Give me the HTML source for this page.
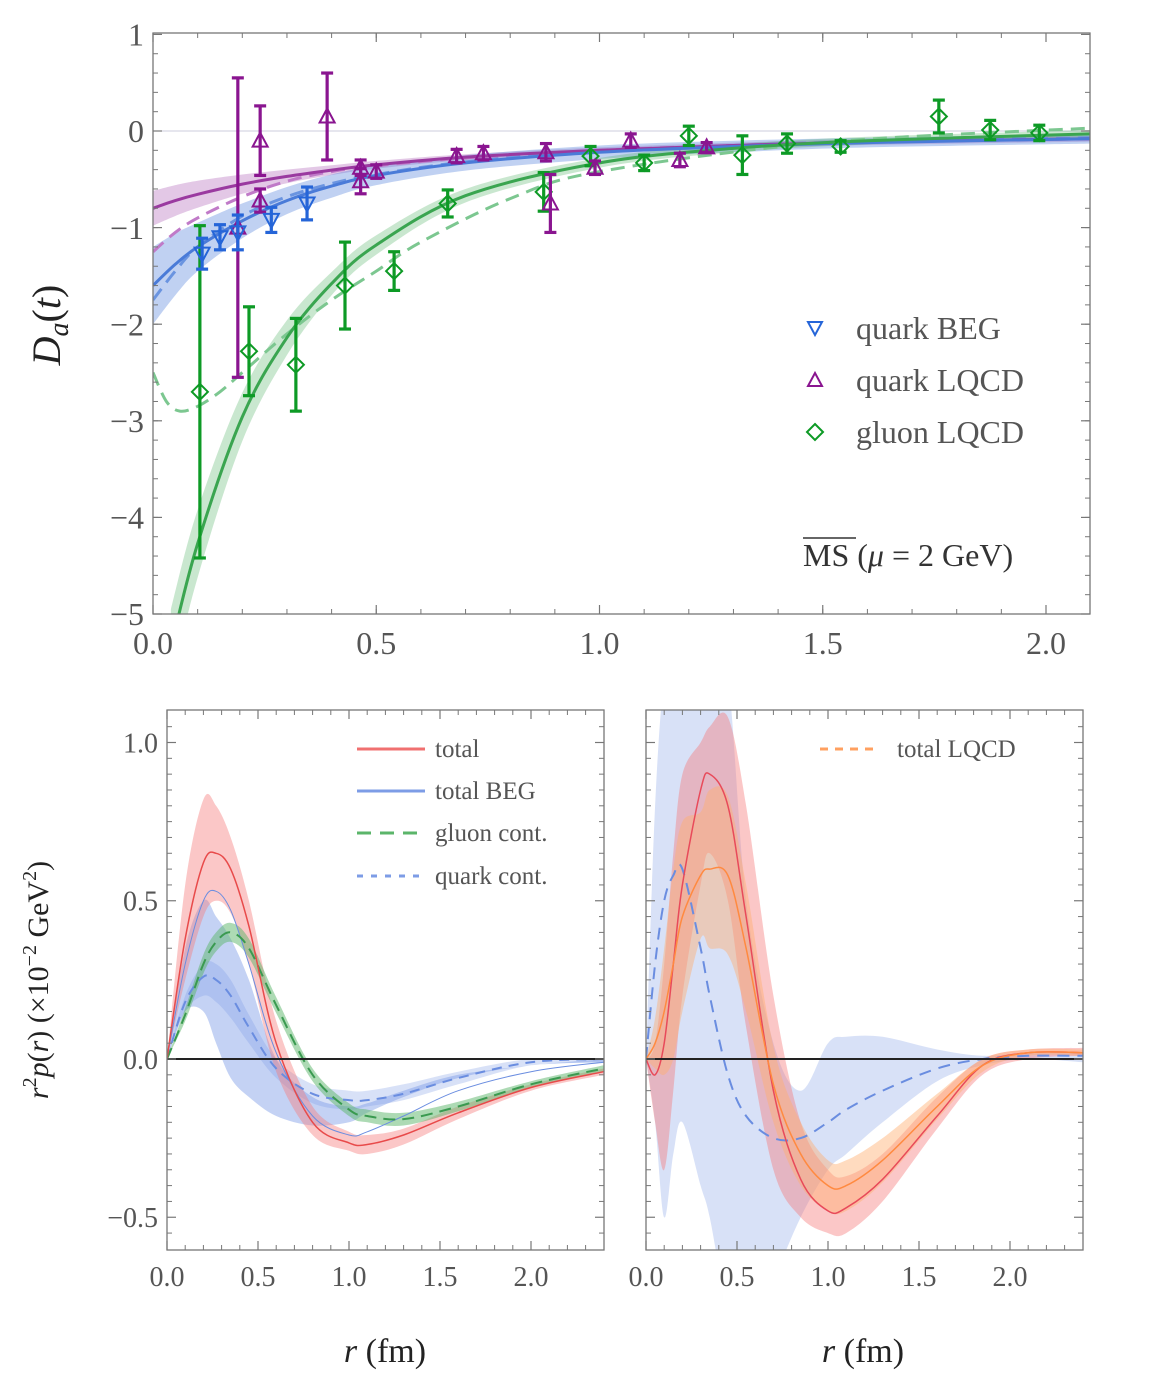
<!DOCTYPE html>
<html><head><meta charset="utf-8">
<style>
html,body{margin:0;padding:0;background:#fff;}
svg{display:block;}
svg text{font-family:"Liberation Serif","DejaVu Serif",serif;}
</style></head>
<body>
<svg id="fig" width="1154" height="1396" viewBox="0 0 1154 1396" xmlns="http://www.w3.org/2000/svg" font-family="Liberation Serif, DejaVu Serif, serif">
<defs>
<clipPath id="clipTop"><rect x="153" y="33" width="937" height="581"/></clipPath>
<clipPath id="clipL"><rect x="167" y="710" width="437" height="540"/></clipPath>
<clipPath id="clipR"><rect x="646" y="710" width="437" height="540"/></clipPath>
</defs>
<g id="top"></g>
<g id="bl"></g>
<g id="br"></g>
</svg>
<script>
// ---------- TOP CHART DATA ----------
const topT = [0,0.05,0.1,0.2,0.3,0.4,0.5,0.7,1.0,1.3,1.6,2.1];
const purpleFit = [-0.8,-0.72,-0.655,-0.55,-0.47,-0.405,-0.35,-0.27,-0.2,-0.15,-0.115,-0.08];
const purpleErr = [0.18,0.16,0.14,0.1,0.07,0.05,0.04,0.03,0.03,0.03,0.03,0.03];
const purpleDash = [-1.25,-1.05,-0.9,-0.68,-0.52,-0.42,-0.36,-0.28,-0.2,-0.15,-0.11,-0.08];
const blueFit = [-1.6,-1.38,-1.2,-0.93,-0.72,-0.57,-0.46,-0.33,-0.22,-0.16,-0.12,-0.08];
const blueErr = [0.4,0.32,0.25,0.18,0.14,0.12,0.1,0.08,0.07,0.06,0.05,0.05];
const blueDash = [-1.75,-1.45,-1.2,-0.88,-0.68,-0.545,-0.45,-0.32,-0.21,-0.15,-0.11,-0.07];
const greenT = [0.04,0.1,0.2,0.3,0.4,0.5,0.7,1.0,1.3,1.6,2.1];
const greenFit = [-5.35,-4.27,-2.96,-2.14,-1.58,-1.18,-0.67,-0.33,-0.18,-0.1,-0.03];
const greenErr = [0.4,0.35,0.25,0.18,0.12,0.1,0.07,0.05,0.04,0.04,0.04];
const greenDashT = [0,0.03,0.06,0.1,0.15,0.2,0.3,0.4,0.5,0.6,0.8,1.0,1.5,2.1];
const greenDash = [-2.5,-2.8,-2.9,-2.85,-2.7,-2.5,-2.1,-1.75,-1.45,-1.15,-0.7,-0.42,-0.12,0.03];
const qBegT = [0.11,0.15,0.19,0.265,0.345];
const qBegV = [-1.27,-1.1,-1.05,-0.92,-0.75];
const qBegE = [0.16,0.13,0.18,0.13,0.17];
const qLqT = [0.19,0.24,0.24,0.39,0.465,0.465,0.5,0.68,0.74,0.88,0.89,0.99,1.07,1.18,1.24];
const qLqV = [-1.0,-0.1,-0.72,0.15,-0.38,-0.52,-0.42,-0.26,-0.23,-0.22,-0.75,-0.38,-0.1,-0.3,-0.17];
const qLqE = [1.55,0.36,0.12,0.45,0.08,0.13,0.07,0.07,0.07,0.09,0.3,0.07,0.07,0.07,0.05];
const gLqT = [0.105,0.215,0.32,0.43,0.54,0.66,0.875,0.98,1.1,1.2,1.32,1.42,1.54,1.76,1.875,1.985];
const gLqV = [-2.7,-2.28,-2.42,-1.6,-1.45,-0.75,-0.63,-0.26,-0.33,-0.05,-0.25,-0.13,-0.16,0.15,0.01,-0.02];
const gLqE = [1.72,0.46,0.48,0.45,0.2,0.14,0.2,0.1,0.08,0.1,0.2,0.1,0.06,0.17,0.1,0.08];
const topXTicks = [0,0.5,1.0,1.5,2.0];
const topXLabels = ["0.0","0.5","1.0","1.5","2.0"];
const topYTicks = [1,0,-1,-2,-3,-4,-5];
const topYLabels = ["1","0","\u22121","\u22122","\u22123","\u22124","\u22125"];

// ---------- BOTTOM LEFT DATA ----------
const rL = [0,0.1,0.2,0.27,0.35,0.45,0.6,0.8,1.0,1.1,1.3,1.6,2.0,2.4];
const totL = [0,0.38,0.62,0.65,0.6,0.42,0.05,-0.2,-0.265,-0.27,-0.24,-0.17,-0.09,-0.04];
const totLHi = [0,0.55,0.82,0.8,0.7,0.5,0.12,-0.15,-0.23,-0.24,-0.22,-0.15,-0.08,-0.03];
const totLLo = [0,0.25,0.45,0.5,0.46,0.3,-0.04,-0.24,-0.29,-0.3,-0.27,-0.19,-0.1,-0.05];
const begL = [0,0.3,0.5,0.53,0.47,0.3,0.02,-0.18,-0.24,-0.23,-0.18,-0.1,-0.04,-0.01];
const begLHi = [0,0.35,0.5,0.45,0.38,0.25,0.0,-0.12,-0.15,-0.14,-0.1,-0.05,-0.02,0];
const begLLo = [0,0.15,0.15,0.05,-0.06,-0.12,-0.18,-0.21,-0.2,-0.17,-0.12,-0.06,-0.02,-0.01];
const quarkL = [0,0.18,0.26,0.25,0.2,0.1,-0.03,-0.11,-0.13,-0.13,-0.11,-0.06,-0.01,0];
const quarkLHi = [0,0.2,0.3,0.3,0.25,0.14,0.0,-0.08,-0.1,-0.1,-0.08,-0.04,0,0];
const quarkLLo = [0,0.15,0.2,0.18,0.13,0.05,-0.06,-0.14,-0.16,-0.15,-0.13,-0.08,-0.02,-0.01];
const gluonL = [0,0.14,0.3,0.37,0.4,0.35,0.17,-0.05,-0.16,-0.18,-0.19,-0.15,-0.08,-0.03];
const gluonLErr = [0,0.02,0.03,0.03,0.03,0.03,0.025,0.02,0.02,0.02,0.02,0.015,0.01,0.01];

// ---------- BOTTOM RIGHT DATA ----------
const rR = [0,0.05,0.1,0.15,0.2,0.3,0.35,0.45,0.55,0.7,0.85,1.0,1.1,1.3,1.6,1.85,2.1,2.4];
const totR = [0,-0.05,0.05,0.3,0.55,0.85,0.9,0.8,0.45,-0.1,-0.38,-0.48,-0.47,-0.38,-0.18,-0.02,0.02,0.02];
const totRHi = [0,0.05,0.3,0.65,0.9,1.0,1.05,1.08,0.8,0.2,-0.2,-0.35,-0.37,-0.3,-0.12,0.0,0.03,0.035];
const totRLo = [0,-0.2,-0.35,-0.1,0.2,0.55,0.65,0.5,0.1,-0.35,-0.5,-0.55,-0.55,-0.45,-0.22,-0.05,0.0,0.01];
const lqR = [0,0.05,0.15,0.3,0.45,0.58,0.6,0.58,0.35,-0.08,-0.3,-0.4,-0.4,-0.32,-0.15,-0.02,0.02,0.02];
const lqRErr = [0,0.08,0.2,0.3,0.3,0.2,0.25,0.25,0.2,0.12,0.1,0.08,0.08,0.07,0.04,0.02,0.01,0.01];
const quarkR = [0,0.3,0.5,0.58,0.6,0.35,0.2,-0.05,-0.18,-0.25,-0.25,-0.2,-0.16,-0.1,-0.03,0,0.01,0.01];
const quarkRHi = [0,0.8,1.2,1.2,1.2,1.2,1.2,1.2,0.5,0.05,-0.1,0.05,0.07,0.07,0.03,0.01,0.02,0.02];
const quarkRLo = [0,-0.2,-0.5,-0.3,-0.2,-0.4,-0.5,-0.8,-0.9,-0.7,-0.5,-0.35,-0.3,-0.2,-0.07,-0.02,0,-0.01];
const botXTicks = [0,0.5,1.0,1.5,2.0];
const botXLabels = ["0.0","0.5","1.0","1.5","2.0"];
const botYTicks = [1.0,0.5,0.0,-0.5];
const botYLabels = ["1.0","0.5","0.0","\u22120.5"];

// ---------- HELPERS ----------
const NS = "http://www.w3.org/2000/svg";
function mk(parent, tag, attrs){ const e=document.createElementNS(NS,tag); for(const k in attrs) e.setAttribute(k,attrs[k]); parent.appendChild(e); return e; }
function smooth(pts){
  let d = "M"+pts[0][0].toFixed(1)+","+pts[0][1].toFixed(1);
  for(let i=0;i<pts.length-1;i++){
    const p0=pts[Math.max(0,i-1)],p1=pts[i],p2=pts[i+1],p3=pts[Math.min(pts.length-1,i+2)];
    const c1=[p1[0]+(p2[0]-p0[0])/6,p1[1]+(p2[1]-p0[1])/6];
    const c2=[p2[0]-(p3[0]-p1[0])/6,p2[1]-(p3[1]-p1[1])/6];
    d+=" C"+c1[0].toFixed(1)+","+c1[1].toFixed(1)+" "+c2[0].toFixed(1)+","+c2[1].toFixed(1)+" "+p2[0].toFixed(1)+","+p2[1].toFixed(1);
  }
  return d;
}
function line(g, xs, ys, X, Y, style, name){
  const p = mk(g,"path",Object.assign({d:smooth(xs.map((x,i)=>[X(x),Y(ys[i])])),fill:"none"},style));
  
  
  return p;
}
function band(g, xs, lo, hi, X, Y, fill, op, name){
  const up = xs.map((x,i)=>[X(x),Y(hi[i])]);
  const dn = xs.map((x,i)=>[X(x),Y(lo[i])]).reverse();
  const d = smooth(up) + " L" + smooth(dn).slice(1) + " Z";
  const p = mk(g,"path",{d:d,fill:fill,"fill-opacity":op,stroke:"none"});
  
  
  return p;
}
function frame(g, x0, y0, w, h, X, Y, xt, xl, yt, yl, xminor, yminor, fs, showY){
  const fr = mk(g,"rect",{x:x0,y:y0,width:w,height:h,fill:"none",stroke:"#777","stroke-width":1.3});
  
  
  xminor.forEach(v=>{ const x=X(v); mk(g,"line",{x1:x,x2:x,y1:y0+h,y2:y0+h-5,stroke:"#777","stroke-width":1}); mk(g,"line",{x1:x,x2:x,y1:y0,y2:y0+5,stroke:"#777","stroke-width":1}); });
  yminor.forEach(v=>{ const y=Y(v); mk(g,"line",{x1:x0,x2:x0+5,y1:y,y2:y,stroke:"#777","stroke-width":1}); mk(g,"line",{x1:x0+w,x2:x0+w-5,y1:y,y2:y,stroke:"#777","stroke-width":1}); });
  xt.forEach((v,i)=>{ const x=X(v);
    mk(g,"line",{x1:x,x2:x,y1:y0+h,y2:y0+h-9,stroke:"#777","stroke-width":1.2});
    mk(g,"line",{x1:x,x2:x,y1:y0,y2:y0+9,stroke:"#777","stroke-width":1.2});
    const t=mk(g,"text",{x:x,y:y0+h+fs+8,"text-anchor":"middle","font-size":fs,fill:"#555"}); t.textContent=xl[i];
     
  });
  yt.forEach((v,i)=>{ const y=Y(v);
    mk(g,"line",{x1:x0,x2:x0+9,y1:y,y2:y,stroke:"#777","stroke-width":1.2});
    mk(g,"line",{x1:x0+w,x2:x0+w-9,y1:y,y2:y,stroke:"#777","stroke-width":1.2});
    if(showY){ const t=mk(g,"text",{x:x0-9,y:y+fs*0.35,"text-anchor":"end","font-size":fs,fill:"#555"}); t.textContent=yl[i];
        }
  });
}
function range(a,b,s){ const r=[]; for(let v=a; v<=b+1e-9; v+=s) r.push(+v.toFixed(4)); return r; }

// ---------- TOP CHART ----------
(function(){
  const g = document.getElementById("top");
  const X = t => 153 + t*446.5;
  const Y = v => 131 - v*96.6;
  const plot = mk(g,"g",{"clip-path":"url(#clipTop)"});
   
  const zl = mk(plot,"line",{x1:153,x2:1090,y1:Y(0),y2:Y(0),stroke:"#ccd","stroke-width":1});
   
  band(plot, topT, purpleFit.map((v,i)=>v-purpleErr[i]), purpleFit.map((v,i)=>v+purpleErr[i]), X,Y,"#b060b8",0.35,"quark-lqcd-band");
  band(plot, topT, blueFit.map((v,i)=>v-blueErr[i]), blueFit.map((v,i)=>v+blueErr[i]), X,Y,"#5a85dd",0.38,"quark-beg-band");
  band(plot, greenT, greenFit.map((v,i)=>v-greenErr[i]), greenFit.map((v,i)=>v+greenErr[i]), X,Y,"#4caf60",0.3,"gluon-lqcd-band");
  line(plot, greenDashT, greenDash, X,Y, {stroke:"#7cc790","stroke-width":3,"stroke-dasharray":"14,8"}, "gluon-dashed-fit");
  line(plot, topT, purpleDash, X,Y, {stroke:"#c07ac8","stroke-width":3,"stroke-dasharray":"14,8"}, "quark-lqcd-dashed-fit");
  line(plot, topT, blueDash, X,Y, {stroke:"#6a94e0","stroke-width":3,"stroke-dasharray":"14,8"}, "quark-beg-dashed-fit");
  line(plot, topT, purpleFit, X,Y, {stroke:"#9a3aa0","stroke-width":3}, "quark-lqcd-fit");
  line(plot, topT, blueFit, X,Y, {stroke:"#4a7bd8","stroke-width":3}, "quark-beg-fit");
  line(plot, greenT, greenFit, X,Y, {stroke:"#3aa550","stroke-width":3}, "gluon-lqcd-fit");
  function errbar(t,v,e,col,name){
    const x=X(t), y1=Y(v+e), y2=Y(v-e);
    const gg=mk(plot,"g",{stroke:col,"stroke-width":3.2});
     
    mk(gg,"line",{x1:x,x2:x,y1:y1,y2:y2}); mk(gg,"line",{x1:x-6,x2:x+6,y1:y1,y2:y1}); mk(gg,"line",{x1:x-6,x2:x+6,y1:y2,y2:y2});
  }
  gLqT.forEach((t,i)=>{ errbar(t,gLqV[i],gLqE[i],"#0d9a25","gluon-error-bar");
    const x=X(t),y=Y(gLqV[i]); const m=mk(plot,"path",{d:`M${x},${y-8} L${x+8},${y} L${x},${y+8} L${x-8},${y} Z`,fill:"none",stroke:"#0d9a25","stroke-width":2});
      });
  qLqT.forEach((t,i)=>{ errbar(t,qLqV[i],qLqE[i],"#8a1590","quark-lqcd-error-bar");
    const x=X(t),y=Y(qLqV[i]); const m=mk(plot,"path",{d:`M${x},${y-8} L${x+7.5},${y+6} L${x-7.5},${y+6} Z`,fill:"none",stroke:"#8a1590","stroke-width":2});
      });
  qBegT.forEach((t,i)=>{ errbar(t,qBegV[i],qBegE[i],"#2565d8","quark-beg-error-bar");
    const x=X(t),y=Y(qBegV[i]); const m=mk(plot,"path",{d:`M${x},${y+8} L${x+7.5},${y-6} L${x-7.5},${y-6} Z`,fill:"none",stroke:"#2565d8","stroke-width":2});
      });
  frame(g,153,33,937,581,X,Y,topXTicks,topXLabels,topYTicks,topYLabels,range(0.1,2.05,0.1),range(-4.8,0.8,0.2),32,true);
  const yl=mk(g,"text",{x:0,y:0,transform:"translate(60,325) rotate(-90)","text-anchor":"middle","font-size":40,fill:"#222","font-style":"italic"});
  yl.innerHTML='D<tspan font-size="28" dy="8">a</tspan><tspan dy="-8" font-style="normal">(</tspan>t<tspan font-style="normal">)</tspan>';
   
  const lg=mk(g,"g",{});  
  const ents=[["quark BEG","#2565d8","down",328],["quark LQCD","#8a1590","up",380],["gluon LQCD","#0d9a25","dia",432]];
  ents.forEach(e=>{
    const x=815,y=e[3]; let d;
    if(e[2]=="down") d=`M${x},${y+7} L${x+7},${y-6} L${x-7},${y-6} Z`;
    else if(e[2]=="up") d=`M${x},${y-7} L${x+7},${y+6} L${x-7},${y+6} Z`;
    else d=`M${x},${y-8} L${x+8},${y} L${x},${y+8} L${x-8},${y} Z`;
    const ge=mk(lg,"g",{});  
    mk(ge,"path",{d:d,fill:"none",stroke:e[1],"stroke-width":2});
    const t=mk(ge,"text",{x:856,y:y+11,"font-size":32,fill:"#555"}); t.textContent=e[0];
  });
  const ms=mk(g,"text",{x:803,y:566,"font-size":32,fill:"#333"});
  ms.innerHTML='MS <tspan>(</tspan><tspan font-style="italic">μ</tspan> = 2 GeV)';
   
  mk(g,"line",{x1:803,x2:856,y1:538,y2:538,stroke:"#333","stroke-width":1.5});
})();

// ---------- BOTTOM PANELS ----------
function bottom(gid, x0, clip){
  const g=document.getElementById(gid);
  const X=r=>x0+r*182, Y=v=>1059-v*316.5;
  const plot=mk(g,"g",{"clip-path":`url(#${clip})`});
   
  return {g,X,Y,plot};
}
(function(){
  const {g,X,Y,plot}=bottom("bl",167,"clipL");
  band(plot,rL,quarkLLo,quarkLHi,X,Y,"#7d9ce6",0.3,"quark-cont-band");
  band(plot,rL,begLLo,begLHi,X,Y,"#7d9ce6",0.45,"total-beg-band");
  band(plot,rL,totLLo,totLHi,X,Y,"#f57a7a",0.42,"total-band");
  band(plot,rL,gluonL.map((v,i)=>v-gluonLErr[i]),gluonL.map((v,i)=>v+gluonLErr[i]),X,Y,"#5bb56a",0.5,"gluon-cont-band");
  line(plot,rL,begL,X,Y,{stroke:"#6a8de0","stroke-width":1},"total-beg-line");
  line(plot,rL,quarkL,X,Y,{stroke:"#6a8de0","stroke-width":2,"stroke-dasharray":"10,7"},"quark-cont-line");
  line(plot,rL,gluonL,X,Y,{stroke:"#3a9a50","stroke-width":2,"stroke-dasharray":"12,7"},"gluon-cont-line");
  line(plot,rL,totL,X,Y,{stroke:"#e84a4a","stroke-width":1.5},"total-line");
  mk(plot,"line",{x1:167,x2:604,y1:Y(0),y2:Y(0),stroke:"#222","stroke-width":2});
  frame(g,167,710,437,540,X,Y,botXTicks,botXLabels,botYTicks,botYLabels,range(0.1,2.35,0.1),range(-0.55,1.05,0.05).filter(v=>Math.abs(v*2-Math.round(v*2))>0.01),28,true);
  const lg=mk(g,"g",{});  
  const ents=[["total","#f07070",null,749],["total BEG","#7d9ce6",null,791],["gluon cont.","#5bb56a","14,9",833],["quark cont.","#7d9ce6","6,8",876]];
  ents.forEach(e=>{ const ge=mk(lg,"g",{});  
    const a={x1:357,x2:425,y1:e[3],y2:e[3],stroke:e[1],"stroke-width":3}; if(e[2]) a["stroke-dasharray"]=e[2]; mk(ge,"line",a);
    const t=mk(ge,"text",{x:435,y:e[3]+8,"font-size":25,fill:"#555"}); t.textContent=e[0]; });
  const yl=mk(g,"text",{x:0,y:0,transform:"translate(48,980) rotate(-90)","text-anchor":"middle","font-size":30,fill:"#222"});
  yl.innerHTML='<tspan font-style="italic">r</tspan><tspan font-size="20" dy="-12">2</tspan><tspan dy="12" font-style="italic">p</tspan>(<tspan font-style="italic">r</tspan>) (×10<tspan font-size="20" dy="-12">−2</tspan><tspan dy="12"> GeV</tspan><tspan font-size="20" dy="-12">2</tspan><tspan dy="12">)</tspan>';
   
  const xl=mk(g,"text",{x:385,y:1362,"text-anchor":"middle","font-size":34,fill:"#222"});
  xl.innerHTML='<tspan font-style="italic">r</tspan> (fm)';  
})();
(function(){
  const {g,X,Y,plot}=bottom("br",646,"clipR");
  band(plot,rR,quarkRLo,quarkRHi,X,Y,"#7d9ce6",0.3,"quark-cont-band");
  band(plot,rR,totRLo,totRHi,X,Y,"#f57a7a",0.42,"total-band");
  band(plot,rR,lqR.map((v,i)=>v-lqRErr[i]),lqR.map((v,i)=>v+lqRErr[i]),X,Y,"#ffb070",0.45,"total-lqcd-band");
  line(plot,rR,quarkR,X,Y,{stroke:"#6a8de0","stroke-width":2,"stroke-dasharray":"12,8"},"quark-cont-line");
  line(plot,rR,totR,X,Y,{stroke:"#e84a5a","stroke-width":1.5},"total-line");
  line(plot,rR,lqR,X,Y,{stroke:"#ff8a40","stroke-width":1.5},"total-lqcd-line");
  mk(plot,"line",{x1:646,x2:1083,y1:Y(0),y2:Y(0),stroke:"#222","stroke-width":2});
  frame(g,646,710,437,540,X,Y,botXTicks,botXLabels,botYTicks,botYLabels,range(0.1,2.35,0.1),range(-0.55,1.05,0.05).filter(v=>Math.abs(v*2-Math.round(v*2))>0.01),28,false);
  const ge=mk(g,"g",{});  
  mk(ge,"line",{x1:820,x2:880,y1:749,y2:749,stroke:"#ffa060","stroke-width":3,"stroke-dasharray":"8,7"});
  const t=mk(ge,"text",{x:897,y:757,"font-size":25,fill:"#555"}); t.textContent="total LQCD";
  const xl=mk(g,"text",{x:863,y:1362,"text-anchor":"middle","font-size":34,fill:"#222"});
  xl.innerHTML='<tspan font-style="italic">r</tspan> (fm)';  
})();
</script>
</body></html>
